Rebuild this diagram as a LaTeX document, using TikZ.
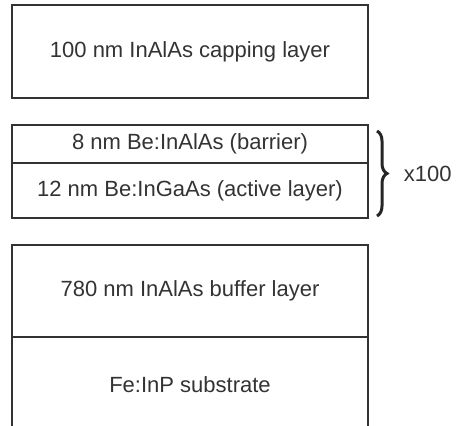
\documentclass[tikz,border=0pt]{standalone}
\usepackage{fontspec}
\setmainfont{Liberation Sans}
\usetikzlibrary{positioning,decorations.pathreplacing}
\tikzset{
    layer/.style={draw=black!80,line width=2.4pt,minimum width=356pt,inner sep=0pt,outer sep=0pt,
        font=\fontsize{22}{26}\selectfont,text=black!80}
}
\begin{document}
\begin{tikzpicture}[x=1pt,y=1pt]
    \useasboundingbox (0,0) rectangle (456,426);
    \clip (0,0) rectangle (456,426);

    % Capping layer
    \node[layer,minimum height=93pt,anchor=north west] (cap) at (12,421) {100 nm InAlAs capping layer};

    % Superlattice period
    \node[layer,minimum height=38pt,below=27pt of cap] (barrier) {8 nm Be:InAlAs (barrier)};
    \node[layer,minimum height=55pt,below=0pt of barrier] (active) {12 nm Be:InGaAs (active layer)};

    % Buffer and substrate
    \node[layer,minimum height=92pt,below=27pt of active] (buffer) {780 nm InAlAs buffer layer};
    \node[layer,minimum height=95pt,below=0pt of buffer] (substrate) {Fe:InP substrate};

    % Repetition brace
    \draw[decorate,decoration={brace,amplitude=10pt},line width=3pt,black!85]
        ([xshift=9pt,yshift=-6pt]barrier.north east) -- ([xshift=9pt,yshift=2pt]active.south east)
        node[midway,right=22pt,font=\fontsize{22}{26}\selectfont,text=black!80] (rep) {x100};
\end{tikzpicture}
\end{document}
